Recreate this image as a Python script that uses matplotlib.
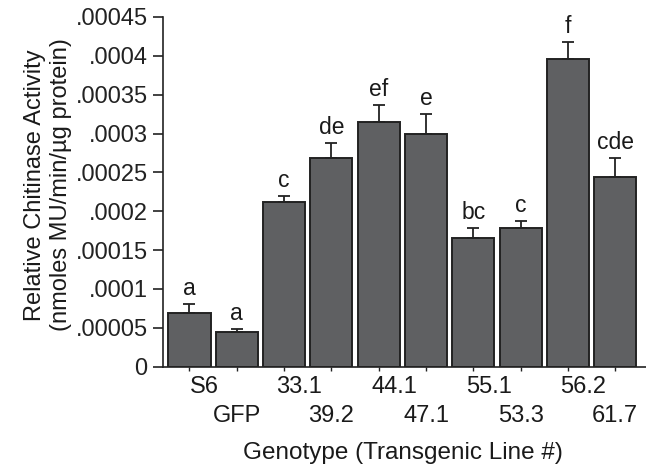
import matplotlib
matplotlib.use("Agg")
import matplotlib.pyplot as plt
import numpy as np

plt.rcParams['font.family'] = ['Liberation Sans', 'DejaVu Sans']

genotypes = ["S6", "GFP", "33.1", "39.2", "44.1", "47.1", "55.1", "53.3", "56.2", "61.7"]
activity = [0.0000695, 0.000045, 0.000212, 0.000269, 0.000315, 0.000300,
            0.000166, 0.000178, 0.000396, 0.000244]
errors = [0.000011, 0.0000035, 0.000008, 0.000019, 0.000022, 0.000025,
          0.000013, 0.000010, 0.000022, 0.000025]
letters = ["a", "a", "c", "de", "ef", "e", "bc", "c", "f", "cde"]
yticks = [0, 0.00005, 0.0001, 0.00015, 0.0002, 0.00025, 0.0003, 0.00035, 0.0004, 0.00045]
ytick_labels = ["0", ".00005", ".0001", ".00015", ".0002", ".00025", ".0003",
                ".00035", ".0004", ".00045"]

FS = 17
fig = plt.figure(figsize=(6.46, 4.69), dpi=100)
ax = fig.add_axes([0.2523, 0.2182, 0.7477, 0.7456])

x = np.arange(len(genotypes))
ax.bar(x, activity, width=0.89, color="#5f6062", edgecolor="#222222", linewidth=1.4, zorder=2)
ax.errorbar(x, activity, yerr=[np.zeros(len(errors)), errors], fmt="none",
            ecolor="#222222", elinewidth=1.3, capsize=4, capthick=1.3, zorder=3)

for xi, v, e, lab in zip(x, activity, errors, letters):
    ax.text(xi, v + e + 0.000005, lab, ha="center", va="bottom", fontsize=16.5, color="#1a1a1a")

ax.set_xlim(-0.56, 9.65)
ax.set_ylim(0, 0.00045)
ax.set_yticks(yticks)
ax.set_yticklabels(ytick_labels, fontsize=FS, color="#1a1a1a")
ax.set_xticks(x)
ax.set_xticklabels(["" for _ in genotypes])
for xi, g in zip(x, genotypes):
    row = 0 if xi % 2 == 0 else 1
    dx = 11 if row == 0 else 0
    ax.annotate(g, xy=(xi, 0), xycoords=("data", "axes fraction"),
                xytext=(dx, -14.5 - row * 21), textcoords="offset points",
                ha="center", va="center", fontsize=FS, color="#1a1a1a")

ax.spines["top"].set_visible(False)
ax.spines["right"].set_visible(False)
for s in ("left", "bottom"):
    ax.spines[s].set_linewidth(1.2)
    ax.spines[s].set_color("#222222")
ax.tick_params(axis="y", direction="out", length=7, width=1.2, pad=4, colors="#222222")
ax.tick_params(axis="x", direction="out", length=3, width=1.0, colors="#222222")

fig.text(403 / 646, 1 - 453 / 469, "Genotype (Transgenic Line #)", ha="center", va="center",
         fontsize=17.5, color="#1a1a1a")
fig.text(48 / 646, 1 - 185 / 469, "Relative Chitinase Activity\n(nmoles MU/min/\u00b5g protein)",
         rotation=90, ha="center", va="center", fontsize=17, color="#1a1a1a",
         linespacing=1.25)

fig.savefig("out.png", dpi=100)
